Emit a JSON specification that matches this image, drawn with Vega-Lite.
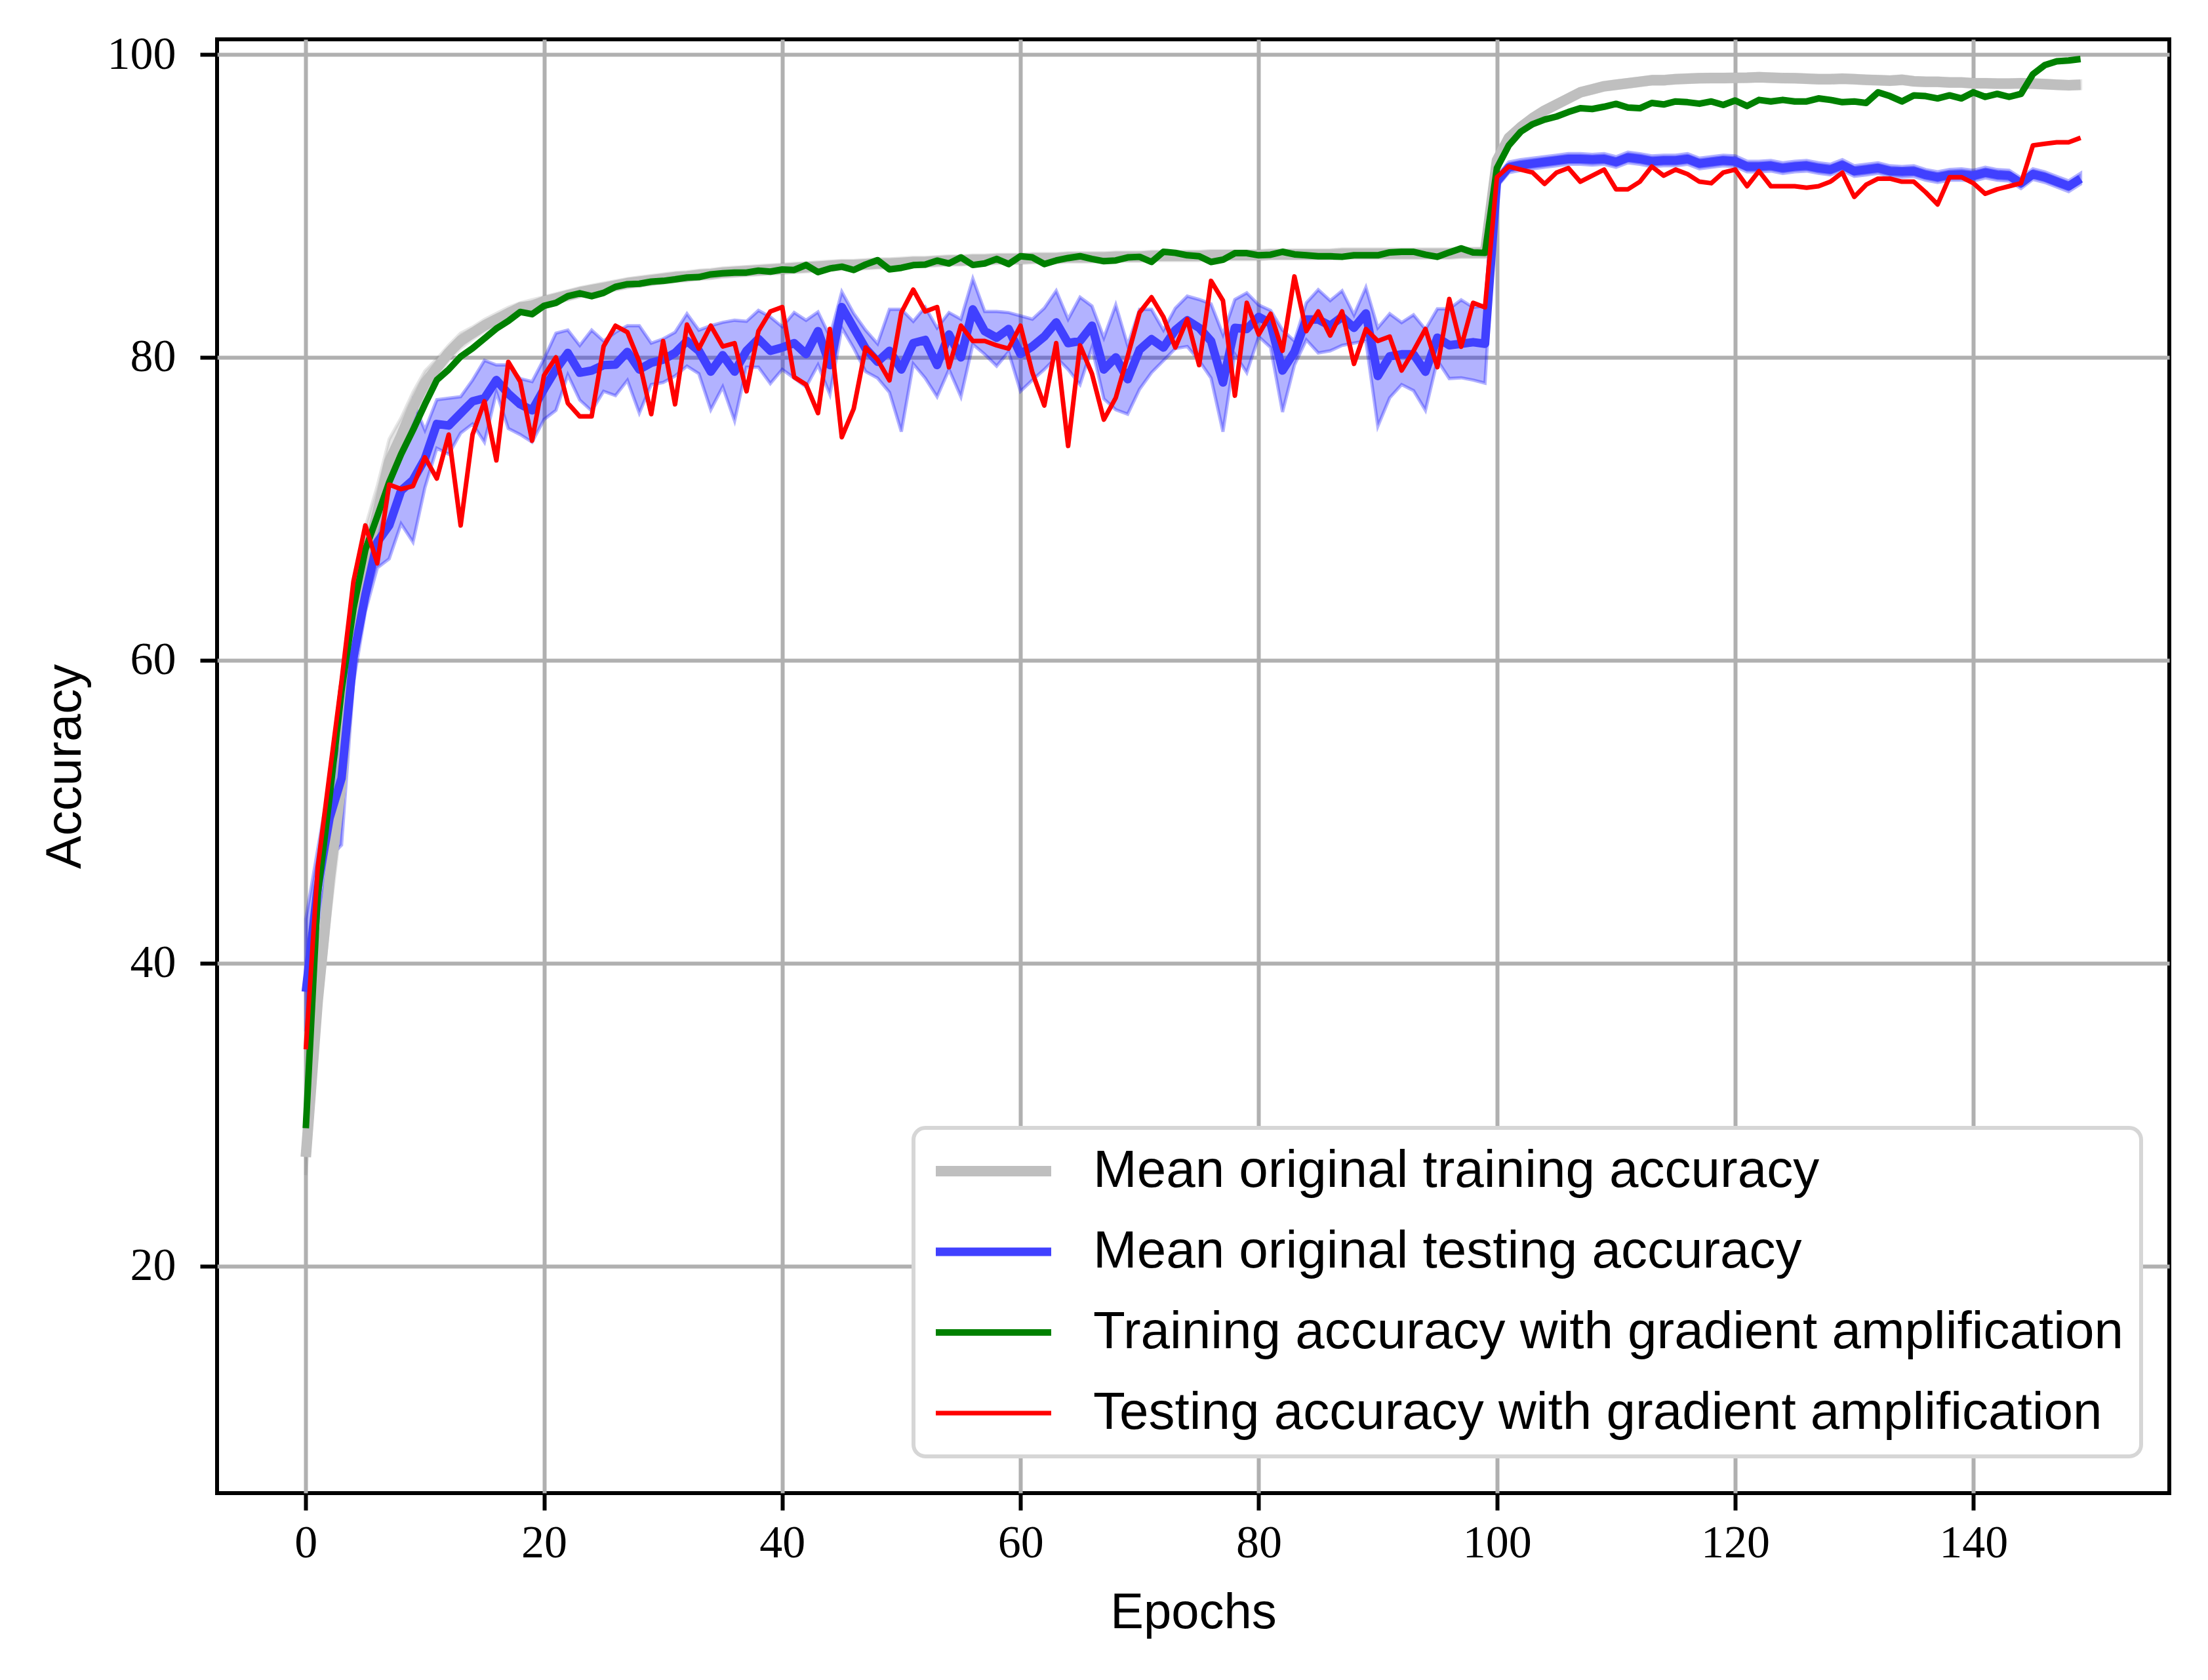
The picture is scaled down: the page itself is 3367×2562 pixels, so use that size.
{
  "$schema": "https://vega.github.io/schema/vega-lite/v6.json",
  "width": 2977,
  "height": 2217,
  "autosize": {"type": "none"},
  "padding": {"left": 331, "top": 60, "right": 59, "bottom": 285},
  "background": "white",
  "config": {
    "view": {"stroke": "black", "strokeWidth": 6},
    "axis": {
      "grid": true,
      "gridColor": "#b0b0b0",
      "gridWidth": 6,
      "domain": false,
      "tickColor": "black",
      "tickWidth": 6,
      "tickSize": 26,
      "labelFont": "Liberation Serif",
      "labelFontSize": 70,
      "labelColor": "black",
      "titleFont": "Liberation Sans",
      "titleFontSize": 76,
      "titleFontWeight": "normal",
      "titleColor": "black"
    },
    "legend": {
      "padding": 26,
      "fillColor": "white",
      "strokeColor": "#d6d6d6",
      "strokeWidth": 6,
      "cornerRadius": 18,
      "symbolType": "stroke",
      "symbolSize": 30976,
      "labelFont": "Liberation Sans",
      "labelFontSize": 80,
      "labelColor": "black",
      "labelLimit": 3000,
      "labelOffset": 56,
      "rowPadding": 43,
      "clipHeight": 80
    }
  },
  "data": {
    "values": [
      {"e":0,"g":27.2,"gl":26.0,"gh":28.8,"b":38.1,"bl":35.5,"bh":42.9,"t":29.1,"r":34.3},
      {"e":1,"g":37.5,"gl":35.5,"gh":40.0,"b":45.0,"bl":42.5,"bh":47.5,"t":44.5,"r":46.3},
      {"e":2,"g":45.5,"gl":43.0,"gh":48.0,"b":49.6,"bl":47.0,"bh":52.0,"t":51.0,"r":52.5},
      {"e":3,"g":52.0,"gl":49.5,"gh":55.0,"b":52.2,"bl":47.8,"bh":55.0,"t":58.0,"r":58.6},
      {"e":4,"g":62.0,"gl":59.0,"gh":64.5,"b":60.2,"bl":58.5,"bh":61.8,"t":63.4,"r":65.2},
      {"e":5,"g":66.6,"gl":64.0,"gh":68.8,"b":64.3,"bl":63.2,"bh":66.1,"t":67.3,"r":68.9},
      {"e":6,"g":69.7,"gl":67.8,"gh":71.5,"b":67.8,"bl":66.1,"bh":69.2,"t":69.5,"r":66.4},
      {"e":7,"g":73.1,"gl":71.5,"gh":74.6,"b":68.9,"bl":66.7,"bh":71.9,"t":71.75,"r":71.6},
      {"e":8,"g":74.8,"gl":73.6,"gh":76.0,"b":71.2,"bl":69.0,"bh":73.5,"t":73.6,"r":71.3},
      {"e":9,"g":76.7,"gl":75.7,"gh":77.7,"b":71.9,"bl":67.8,"bh":77.1,"t":75.2,"r":71.5},
      {"e":10,"g":78.3,"gl":77.5,"gh":79.1,"b":73.3,"bl":71.4,"bh":75.2,"t":76.9,"r":73.4},
      {"e":11,"g":79.3,"gl":78.7,"gh":79.9,"b":75.6,"bl":74.0,"bh":77.2,"t":78.5,"r":72.0},
      {"e":12,"g":80.3,"gl":79.8,"gh":80.8,"b":75.5,"bl":73.6,"bh":77.3,"t":79.2,"r":74.9},
      {"e":13,"g":81.1,"gl":80.6,"gh":81.6,"b":76.3,"bl":75.0,"bh":77.4,"t":80.05,"r":68.9},
      {"e":14,"g":81.6,"gl":81.2,"gh":82.0,"b":77.1,"bl":75.6,"bh":78.5,"t":80.6,"r":74.9},
      {"e":15,"g":82.1,"gl":81.7,"gh":82.5,"b":77.3,"bl":74.4,"bh":79.8,"t":81.25,"r":77.1},
      {"e":16,"g":82.5,"gl":82.1,"gh":82.9,"b":78.5,"bl":77.7,"bh":79.5,"t":81.9,"r":73.2},
      {"e":17,"g":82.9,"gl":82.5,"gh":83.3,"b":77.6,"bl":75.3,"bh":79.5,"t":82.4,"r":79.7},
      {"e":18,"g":83.3,"gl":82.9,"gh":83.6,"b":76.9,"bl":74.9,"bh":78.6,"t":83.0,"r":78.4},
      {"e":19,"g":83.4,"gl":83.1,"gh":83.8,"b":76.5,"bl":74.4,"bh":78.4,"t":82.85,"r":74.5},
      {"e":20,"g":83.7,"gl":83.4,"gh":84.0,"b":77.9,"bl":75.9,"bh":79.9,"t":83.4,"r":78.8},
      {"e":21,"g":83.9,"gl":83.6,"gh":84.2,"b":79.2,"bl":76.5,"bh":81.6,"t":83.6,"r":80.0},
      {"e":22,"g":84.1,"gl":83.8,"gh":84.4,"b":80.29,"bl":78.84,"bh":81.8,"t":84.04,"r":76.97},
      {"e":23,"g":84.3,"gl":84.0,"gh":84.6,"b":78.99,"bl":77.18,"bh":80.79,"t":84.23,"r":76.1},
      {"e":24,"g":84.45,"gl":84.15,"gh":84.75,"b":79.13,"bl":76.46,"bh":81.8,"t":84.04,"r":76.1},
      {"e":25,"g":84.6,"gl":84.3,"gh":84.9,"b":79.49,"bl":77.76,"bh":81.08,"t":84.26,"r":80.72},
      {"e":26,"g":84.75,"gl":84.45,"gh":85.05,"b":79.52,"bl":77.47,"bh":81.66,"t":84.66,"r":82.09},
      {"e":27,"g":84.9,"gl":84.6,"gh":85.2,"b":80.36,"bl":78.48,"bh":82.09,"t":84.83,"r":81.66},
      {"e":28,"g":85.0,"gl":84.7,"gh":85.3,"b":79.2,"bl":76.32,"bh":82.09,"t":84.86,"r":79.71},
      {"e":29,"g":85.1,"gl":84.8,"gh":85.4,"b":79.64,"bl":78.2,"bh":80.94,"t":85.0,"r":76.25},
      {"e":30,"g":85.2,"gl":84.9,"gh":85.5,"b":79.85,"bl":78.34,"bh":81.22,"t":85.05,"r":81.08},
      {"e":31,"g":85.3,"gl":85.0,"gh":85.6,"b":80.29,"bl":78.77,"bh":81.66,"t":85.15,"r":76.9},
      {"e":32,"g":85.35,"gl":85.05,"gh":85.65,"b":81.08,"bl":79.42,"bh":82.88,"t":85.27,"r":82.16},
      {"e":33,"g":85.45,"gl":85.15,"gh":85.75,"b":80.43,"bl":78.92,"bh":81.8,"t":85.3,"r":80.58},
      {"e":34,"g":85.5,"gl":85.2,"gh":85.8,"b":79.06,"bl":76.54,"bh":82.09,"t":85.48,"r":82.09},
      {"e":35,"g":85.6,"gl":85.3,"gh":85.9,"b":80.14,"bl":78.05,"bh":82.31,"t":85.55,"r":80.72},
      {"e":36,"g":85.65,"gl":85.35,"gh":85.95,"b":79.06,"bl":75.81,"bh":82.45,"t":85.6,"r":80.94},
      {"e":37,"g":85.7,"gl":85.4,"gh":86.0,"b":80.43,"bl":79.35,"bh":82.38,"t":85.6,"r":77.76},
      {"e":38,"g":85.75,"gl":85.45,"gh":86.05,"b":81.22,"bl":79.35,"bh":83.1,"t":85.73,"r":81.73},
      {"e":39,"g":85.8,"gl":85.5,"gh":86.1,"b":80.43,"bl":78.27,"bh":82.67,"t":85.66,"r":83.03},
      {"e":40,"g":85.85,"gl":85.55,"gh":86.15,"b":80.65,"bl":79.2,"bh":82.02,"t":85.8,"r":83.32},
      {"e":41,"g":85.9,"gl":85.6,"gh":86.2,"b":80.94,"bl":78.63,"bh":82.96,"t":85.77,"r":78.7},
      {"e":42,"g":85.95,"gl":85.65,"gh":86.25,"b":80.22,"bl":78.05,"bh":82.45,"t":86.1,"r":78.2},
      {"e":43,"g":86.0,"gl":85.7,"gh":86.3,"b":81.73,"bl":79.5,"bh":83.0,"t":85.63,"r":76.32},
      {"e":44,"g":86.05,"gl":85.75,"gh":86.35,"b":79.49,"bl":77.55,"bh":81.37,"t":85.87,"r":81.87},
      {"e":45,"g":86.1,"gl":85.8,"gh":86.4,"b":83.32,"bl":81.95,"bh":84.33,"t":85.99,"r":74.73},
      {"e":46,"g":86.1,"gl":85.8,"gh":86.4,"b":81.95,"bl":80.6,"bh":82.9,"t":85.77,"r":76.61},
      {"e":47,"g":86.15,"gl":85.85,"gh":86.45,"b":80.58,"bl":79.06,"bh":81.8,"t":86.13,"r":80.65},
      {"e":48,"g":86.2,"gl":85.9,"gh":86.5,"b":79.71,"bl":78.63,"bh":80.9,"t":86.42,"r":79.85},
      {"e":49,"g":86.2,"gl":85.9,"gh":86.5,"b":80.43,"bl":77.69,"bh":83.17,"t":85.81,"r":78.48},
      {"e":50,"g":86.25,"gl":85.95,"gh":86.55,"b":79.2,"bl":75.09,"bh":83.17,"t":85.91,"r":82.96},
      {"e":51,"g":86.3,"gl":86.0,"gh":86.6,"b":80.94,"bl":79.57,"bh":82.38,"t":86.09,"r":84.47},
      {"e":52,"g":86.3,"gl":86.0,"gh":86.6,"b":81.15,"bl":78.63,"bh":83.32,"t":86.13,"r":83.03},
      {"e":53,"g":86.35,"gl":86.05,"gh":86.65,"b":79.49,"bl":77.4,"bh":81.95,"t":86.39,"r":83.32},
      {"e":54,"g":86.4,"gl":86.1,"gh":86.7,"b":81.51,"bl":79.2,"bh":82.96,"t":86.2,"r":79.35},
      {"e":55,"g":86.4,"gl":86.1,"gh":86.7,"b":80.0,"bl":77.4,"bh":82.52,"t":86.6,"r":82.09},
      {"e":56,"g":86.45,"gl":86.15,"gh":86.75,"b":83.17,"bl":80.86,"bh":85.19,"t":86.1,"r":81.08},
      {"e":57,"g":86.45,"gl":86.15,"gh":86.75,"b":81.73,"bl":80.2,"bh":83.03,"t":86.2,"r":81.08},
      {"e":58,"g":86.5,"gl":86.2,"gh":86.8,"b":81.3,"bl":79.42,"bh":83.03,"t":86.5,"r":80.79},
      {"e":59,"g":86.5,"gl":86.2,"gh":86.8,"b":81.87,"bl":80.36,"bh":82.96,"t":86.16,"r":80.58},
      {"e":60,"g":86.5,"gl":86.2,"gh":86.8,"b":80.22,"bl":77.76,"bh":82.74,"t":86.68,"r":82.09},
      {"e":61,"g":86.55,"gl":86.25,"gh":86.85,"b":80.72,"bl":78.5,"bh":82.52,"t":86.6,"r":78.99},
      {"e":62,"g":86.55,"gl":86.25,"gh":86.85,"b":81.37,"bl":79.2,"bh":83.25,"t":86.16,"r":76.82},
      {"e":63,"g":86.55,"gl":86.25,"gh":86.85,"b":82.31,"bl":80.0,"bh":84.4,"t":86.4,"r":80.94},
      {"e":64,"g":86.6,"gl":86.3,"gh":86.9,"b":80.94,"bl":79.2,"bh":82.52,"t":86.56,"r":74.15},
      {"e":65,"g":86.6,"gl":86.3,"gh":86.9,"b":81.08,"bl":78.2,"bh":83.97,"t":86.68,"r":80.79},
      {"e":66,"g":86.6,"gl":86.3,"gh":86.9,"b":82.09,"bl":80.65,"bh":83.39,"t":86.5,"r":78.92},
      {"e":67,"g":86.6,"gl":86.3,"gh":86.9,"b":79.2,"bl":77.26,"bh":81.3,"t":86.35,"r":75.89},
      {"e":68,"g":86.65,"gl":86.35,"gh":86.95,"b":80.0,"bl":76.54,"bh":83.46,"t":86.4,"r":77.33},
      {"e":69,"g":86.65,"gl":86.35,"gh":86.95,"b":78.56,"bl":76.25,"bh":80.79,"t":86.6,"r":80.07},
      {"e":70,"g":86.65,"gl":86.35,"gh":86.95,"b":80.5,"bl":77.9,"bh":83.17,"t":86.64,"r":82.96},
      {"e":71,"g":86.7,"gl":86.4,"gh":87.0,"b":81.2,"bl":78.99,"bh":83.17,"t":86.3,"r":83.97},
      {"e":72,"g":86.7,"gl":86.4,"gh":87.0,"b":80.65,"bl":79.78,"bh":81.8,"t":86.97,"r":82.67},
      {"e":73,"g":86.7,"gl":86.4,"gh":87.0,"b":81.8,"bl":80.58,"bh":83.25,"t":86.9,"r":80.65},
      {"e":74,"g":86.7,"gl":86.4,"gh":87.0,"b":82.45,"bl":80.72,"bh":84.04,"t":86.74,"r":82.52},
      {"e":75,"g":86.7,"gl":86.4,"gh":87.0,"b":81.95,"bl":79.78,"bh":83.82,"t":86.68,"r":79.49},
      {"e":76,"g":86.75,"gl":86.45,"gh":87.05,"b":81.08,"bl":78.63,"bh":83.53,"t":86.3,"r":85.05},
      {"e":77,"g":86.75,"gl":86.45,"gh":87.05,"b":78.34,"bl":75.09,"bh":81.51,"t":86.45,"r":83.75},
      {"e":78,"g":86.75,"gl":86.45,"gh":87.05,"b":81.95,"bl":80.2,"bh":83.82,"t":86.88,"r":77.47},
      {"e":79,"g":86.75,"gl":86.45,"gh":87.05,"b":81.87,"bl":78.99,"bh":84.26,"t":86.88,"r":83.6},
      {"e":80,"g":86.75,"gl":86.45,"gh":87.05,"b":82.67,"bl":81.37,"bh":83.46,"t":86.74,"r":81.51},
      {"e":81,"g":86.8,"gl":86.5,"gh":87.1,"b":82.24,"bl":80.65,"bh":83.1,"t":86.78,"r":82.88},
      {"e":82,"g":86.8,"gl":86.5,"gh":87.1,"b":79.13,"bl":76.39,"bh":81.8,"t":86.97,"r":80.43},
      {"e":83,"g":86.8,"gl":86.5,"gh":87.1,"b":80.36,"bl":79.49,"bh":81.08,"t":86.8,"r":85.34},
      {"e":84,"g":86.8,"gl":86.5,"gh":87.1,"b":82.5,"bl":81.15,"bh":83.6,"t":86.74,"r":81.73},
      {"e":85,"g":86.8,"gl":86.5,"gh":87.1,"b":82.5,"bl":80.29,"bh":84.47,"t":86.68,"r":83.03},
      {"e":86,"g":86.8,"gl":86.5,"gh":87.1,"b":82.09,"bl":80.43,"bh":83.75,"t":86.68,"r":81.44},
      {"e":87,"g":86.85,"gl":86.55,"gh":87.15,"b":82.67,"bl":80.79,"bh":84.4,"t":86.64,"r":83.03},
      {"e":88,"g":86.85,"gl":86.55,"gh":87.15,"b":81.95,"bl":80.94,"bh":82.81,"t":86.74,"r":79.57},
      {"e":89,"g":86.85,"gl":86.55,"gh":87.15,"b":82.9,"bl":81.08,"bh":84.62,"t":86.74,"r":81.87},
      {"e":90,"g":86.85,"gl":86.55,"gh":87.15,"b":78.77,"bl":75.45,"bh":81.95,"t":86.74,"r":81.08},
      {"e":91,"g":86.85,"gl":86.55,"gh":87.15,"b":80.07,"bl":77.33,"bh":82.88,"t":86.93,"r":81.37},
      {"e":92,"g":86.85,"gl":86.55,"gh":87.15,"b":80.2,"bl":78.2,"bh":82.3,"t":86.97,"r":79.13},
      {"e":93,"g":86.85,"gl":86.55,"gh":87.15,"b":80.2,"bl":77.8,"bh":82.81,"t":86.97,"r":80.43},
      {"e":94,"g":86.85,"gl":86.55,"gh":87.15,"b":79.05,"bl":76.5,"bh":81.85,"t":86.78,"r":81.87},
      {"e":95,"g":86.85,"gl":86.55,"gh":87.15,"b":81.3,"bl":79.8,"bh":83.2,"t":86.64,"r":79.35},
      {"e":96,"g":86.85,"gl":86.55,"gh":87.15,"b":80.8,"bl":78.6,"bh":83.2,"t":86.93,"r":83.85},
      {"e":97,"g":86.9,"gl":86.6,"gh":87.2,"b":80.9,"bl":78.65,"bh":83.8,"t":87.2,"r":80.7},
      {"e":98,"g":86.9,"gl":86.6,"gh":87.2,"b":81.0,"bl":78.5,"bh":83.3,"t":86.93,"r":83.6},
      {"e":99,"g":86.9,"gl":86.6,"gh":87.2,"b":80.9,"bl":78.3,"bh":83.4,"t":86.9,"r":83.3},
      {"e":100,"g":93.0,"gl":92.75,"gh":93.25,"b":91.6,"bl":91.25,"bh":91.95,"t":92.5,"r":91.9},
      {"e":101,"g":94.5,"gl":94.25,"gh":94.75,"b":92.55,"bl":92.2,"bh":92.9,"t":94.0,"r":92.6},
      {"e":102,"g":95.2,"gl":94.95,"gh":95.45,"b":92.7,"bl":92.35,"bh":93.05,"t":94.9,"r":92.4},
      {"e":103,"g":95.8,"gl":95.55,"gh":96.05,"b":92.8,"bl":92.45,"bh":93.15,"t":95.4,"r":92.2},
      {"e":104,"g":96.3,"gl":96.05,"gh":96.55,"b":92.9,"bl":92.55,"bh":93.25,"t":95.7,"r":91.45},
      {"e":105,"g":96.7,"gl":96.45,"gh":96.95,"b":93.0,"bl":92.65,"bh":93.35,"t":95.9,"r":92.2},
      {"e":106,"g":97.1,"gl":96.85,"gh":97.35,"b":93.1,"bl":92.75,"bh":93.45,"t":96.2,"r":92.5},
      {"e":107,"g":97.5,"gl":97.25,"gh":97.75,"b":93.1,"bl":92.75,"bh":93.45,"t":96.45,"r":91.6},
      {"e":108,"g":97.7,"gl":97.45,"gh":97.95,"b":93.06,"bl":92.7,"bh":93.4,"t":96.4,"r":92.0},
      {"e":109,"g":97.9,"gl":97.65,"gh":98.15,"b":93.1,"bl":92.75,"bh":93.45,"t":96.55,"r":92.4},
      {"e":110,"g":98.0,"gl":97.75,"gh":98.25,"b":92.9,"bl":92.55,"bh":93.25,"t":96.74,"r":91.1},
      {"e":111,"g":98.1,"gl":97.85,"gh":98.35,"b":93.2,"bl":92.85,"bh":93.55,"t":96.5,"r":91.1},
      {"e":112,"g":98.2,"gl":97.95,"gh":98.45,"b":93.1,"bl":92.75,"bh":93.45,"t":96.45,"r":91.6},
      {"e":113,"g":98.3,"gl":98.05,"gh":98.55,"b":92.95,"bl":92.6,"bh":93.3,"t":96.8,"r":92.6},
      {"e":114,"g":98.3,"gl":98.05,"gh":98.55,"b":93.0,"bl":92.65,"bh":93.35,"t":96.7,"r":92.0},
      {"e":115,"g":98.37,"gl":98.12,"gh":98.62,"b":93.0,"bl":92.65,"bh":93.35,"t":96.9,"r":92.4},
      {"e":116,"g":98.4,"gl":98.15,"gh":98.65,"b":93.1,"bl":92.75,"bh":93.45,"t":96.85,"r":92.1},
      {"e":117,"g":98.43,"gl":98.18,"gh":98.68,"b":92.8,"bl":92.45,"bh":93.15,"t":96.75,"r":91.6},
      {"e":118,"g":98.44,"gl":98.19,"gh":98.69,"b":92.9,"bl":92.55,"bh":93.25,"t":96.9,"r":91.5},
      {"e":119,"g":98.44,"gl":98.19,"gh":98.69,"b":93.0,"bl":92.65,"bh":93.35,"t":96.67,"r":92.2},
      {"e":120,"g":98.46,"gl":98.21,"gh":98.71,"b":92.95,"bl":92.6,"bh":93.3,"t":96.96,"r":92.4},
      {"e":121,"g":98.47,"gl":98.22,"gh":98.72,"b":92.6,"bl":92.25,"bh":92.95,"t":96.6,"r":91.3},
      {"e":122,"g":98.5,"gl":98.25,"gh":98.75,"b":92.6,"bl":92.25,"bh":92.95,"t":97.0,"r":92.3},
      {"e":123,"g":98.47,"gl":98.22,"gh":98.72,"b":92.65,"bl":92.3,"bh":93.0,"t":96.9,"r":91.3},
      {"e":124,"g":98.44,"gl":98.19,"gh":98.69,"b":92.5,"bl":92.15,"bh":92.85,"t":97.0,"r":91.3},
      {"e":125,"g":98.43,"gl":98.18,"gh":98.68,"b":92.6,"bl":92.25,"bh":92.95,"t":96.9,"r":91.3},
      {"e":126,"g":98.4,"gl":98.15,"gh":98.65,"b":92.65,"bl":92.3,"bh":93.0,"t":96.9,"r":91.2},
      {"e":127,"g":98.37,"gl":98.12,"gh":98.62,"b":92.5,"bl":92.15,"bh":92.85,"t":97.1,"r":91.3},
      {"e":128,"g":98.37,"gl":98.12,"gh":98.62,"b":92.4,"bl":92.05,"bh":92.75,"t":97.0,"r":91.6},
      {"e":129,"g":98.4,"gl":98.15,"gh":98.65,"b":92.7,"bl":92.35,"bh":93.05,"t":96.85,"r":92.2},
      {"e":130,"g":98.37,"gl":98.12,"gh":98.62,"b":92.3,"bl":91.95,"bh":92.65,"t":96.9,"r":90.6},
      {"e":131,"g":98.33,"gl":98.08,"gh":98.58,"b":92.4,"bl":92.05,"bh":92.75,"t":96.8,"r":91.4},
      {"e":132,"g":98.3,"gl":98.05,"gh":98.55,"b":92.5,"bl":92.15,"bh":92.85,"t":97.5,"r":91.8},
      {"e":133,"g":98.27,"gl":98.02,"gh":98.52,"b":92.3,"bl":91.95,"bh":92.65,"t":97.25,"r":91.8},
      {"e":134,"g":98.33,"gl":98.08,"gh":98.58,"b":92.27,"bl":91.9,"bh":92.6,"t":96.9,"r":91.6},
      {"e":135,"g":98.23,"gl":97.98,"gh":98.48,"b":92.3,"bl":91.95,"bh":92.65,"t":97.3,"r":91.6},
      {"e":136,"g":98.2,"gl":97.95,"gh":98.45,"b":92.05,"bl":91.7,"bh":92.4,"t":97.25,"r":90.9},
      {"e":137,"g":98.2,"gl":97.95,"gh":98.45,"b":91.9,"bl":91.55,"bh":92.25,"t":97.1,"r":90.1},
      {"e":138,"g":98.15,"gl":97.9,"gh":98.4,"b":92.05,"bl":91.7,"bh":92.4,"t":97.3,"r":91.9},
      {"e":139,"g":98.15,"gl":97.9,"gh":98.4,"b":92.08,"bl":91.7,"bh":92.45,"t":97.1,"r":91.9},
      {"e":140,"g":98.1,"gl":97.85,"gh":98.35,"b":92.0,"bl":91.65,"bh":92.35,"t":97.5,"r":91.5},
      {"e":141,"g":98.1,"gl":97.85,"gh":98.35,"b":92.2,"bl":91.85,"bh":92.55,"t":97.2,"r":90.8},
      {"e":142,"g":98.08,"gl":97.83,"gh":98.33,"b":92.05,"bl":91.7,"bh":92.4,"t":97.4,"r":91.1},
      {"e":143,"g":98.08,"gl":97.83,"gh":98.33,"b":92.0,"bl":91.65,"bh":92.35,"t":97.2,"r":91.3},
      {"e":144,"g":98.1,"gl":97.85,"gh":98.35,"b":91.5,"bl":91.15,"bh":91.85,"t":97.4,"r":91.5},
      {"e":145,"g":98.08,"gl":97.83,"gh":98.33,"b":92.1,"bl":91.75,"bh":92.45,"t":98.7,"r":94.0},
      {"e":146,"g":98.04,"gl":97.79,"gh":98.29,"b":91.9,"bl":91.55,"bh":92.25,"t":99.3,"r":94.1},
      {"e":147,"g":98.0,"gl":97.75,"gh":98.25,"b":91.6,"bl":91.25,"bh":91.95,"t":99.55,"r":94.2},
      {"e":148,"g":97.97,"gl":97.72,"gh":98.22,"b":91.3,"bl":90.95,"bh":91.65,"t":99.6,"r":94.2},
      {"e":149,"g":98.0,"gl":97.75,"gh":98.25,"b":91.8,"bl":91.45,"bh":92.15,"t":99.7,"r":94.5}
    ]
  },
  "encoding": {
    "x": {
      "field": "e",
      "type": "quantitative",
      "scale": {"domain": [-7.45, 156.45], "nice": false, "zero": false},
      "axis": {"title": "Epochs", "values": [0, 20, 40, 60, 80, 100, 120, 140], "labelPadding": 16, "titlePadding": 34}
    }
  },
  "layer": [
    {
      "mark": {"type": "area", "fill": "gray", "fillOpacity": 0.2, "stroke": "gray", "strokeOpacity": 0.2, "strokeWidth": 5},
      "encoding": {
        "y": {"field": "gl", "type": "quantitative", "scale": {"domain": [5, 101], "nice": false, "zero": false}, "axis": {"title": "Accuracy", "values": [20, 40, 60, 80, 100], "labelPadding": 37, "titlePadding": 25}},
        "y2": {"field": "gh"}
      }
    },
    {
      "mark": {"type": "area", "fill": "blue", "fillOpacity": 0.3, "stroke": "blue", "strokeOpacity": 0.3, "strokeWidth": 5},
      "encoding": {
        "y": {"field": "bl", "type": "quantitative", "scale": {"domain": [5, 101], "nice": false, "zero": false}, "axis": {"title": "Accuracy", "values": [20, 40, 60, 80, 100], "labelPadding": 37, "titlePadding": 25}},
        "y2": {"field": "bh"}
      }
    },
    {
      "transform": [{"fold": ["g", "b", "t", "r"], "as": ["k", "v"]}],
      "mark": {"type": "line", "strokeJoin": "round"},
      "encoding": {
        "y": {"field": "v", "type": "quantitative", "scale": {"domain": [5, 101], "nice": false, "zero": false}, "axis": {"title": "Accuracy", "values": [20, 40, 60, 80, 100], "labelPadding": 37, "titlePadding": 25}},
        "color": {
          "field": "k",
          "type": "nominal",
          "scale": {"domain": ["g", "b", "t", "r"], "range": ["#bfbfbf", "#4040ff", "#008000", "#ff0000"]},
          "legend": {
            "title": null,
            "orient": "none",
            "legendX": 1062,
            "legendY": 1660,
            "labelExpr": "datum.label == 'g' ? 'Mean original training accuracy' : datum.label == 'b' ? 'Mean original testing accuracy' : datum.label == 't' ? 'Training accuracy with gradient amplification' : 'Testing accuracy with gradient amplification'"
          }
        },
        "strokeWidth": {
          "field": "k",
          "type": "nominal",
          "scale": {"domain": ["g", "b", "t", "r"], "range": [16, 7, 8, 8]},
          "legend": {
            "title": null,
            "orient": "none",
            "legendX": 1062,
            "legendY": 1660,
            "labelExpr": "datum.label == 'g' ? 'Mean original training accuracy' : datum.label == 'b' ? 'Mean original testing accuracy' : datum.label == 't' ? 'Training accuracy with gradient amplification' : 'Testing accuracy with gradient amplification'"
          }
        }
      }
    }
  ]
}
